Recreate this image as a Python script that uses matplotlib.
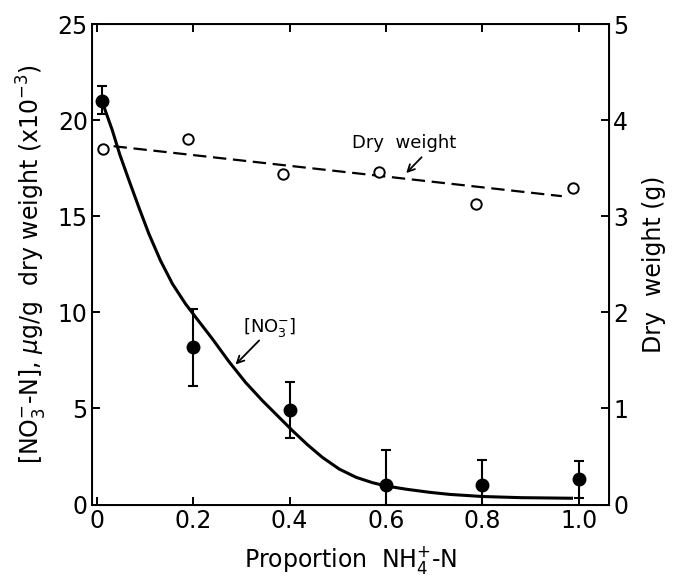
import matplotlib
matplotlib.use("Agg")
import matplotlib.pyplot as plt

# [NO3-] means with error bars (left axis, x10^-3)
prop = [0.01, 0.2, 0.4, 0.6, 0.8, 1.0]
no3 = [21.0, 8.2, 4.9, 1.0, 1.0, 1.35]
no3_hi = [21.8, 10.2, 6.4, 2.85, 2.3, 2.25]
no3_lo = [20.35, 6.15, 3.45, 0.0, 0.0, 0.33]

# fitted [NO3-] curve
curve_x = [0.015, 0.032, 0.048, 0.0665, 0.087, 0.108, 0.132, 0.157, 0.184,
           0.205, 0.240, 0.274, 0.309, 0.344, 0.378, 0.406, 0.437, 0.468,
           0.503, 0.538, 0.572, 0.600, 0.642, 0.69, 0.732, 0.80, 0.88, 0.985]
curve_y = [20.7, 19.5, 18.2, 16.9, 15.49, 14.1, 12.71, 11.49, 10.45,
           9.76, 8.62, 7.45, 6.35, 5.4, 4.55, 3.85, 3.12, 2.46,
           1.85, 1.42, 1.14, 0.97, 0.8, 0.64, 0.53, 0.42, 0.36, 0.33]

# dry weight (right axis, g)
dw_x = [0.012, 0.19, 0.387, 0.586, 0.787, 0.988]
dw = [3.70, 3.80, 3.44, 3.46, 3.125, 3.29]
dw_fit_x = [0.035, 0.965]
dw_fit_y = [3.73, 3.21]

xticks = [0, 0.2, 0.4, 0.6, 0.8, 1.0]
xticklabels = ["0", "0.2", "0.4", "0.6", "0.8", "1.0"]

plt.rcParams['font.family'] = ['DejaVu Sans']

fig = plt.figure(figsize=(6.76, 5.76), dpi=100)
ax = fig.add_axes([0.136, 0.124, 0.765, 0.834])

err_lo = [y - lo for y, lo in zip(no3, no3_lo)]
err_hi = [hi - y for y, hi in zip(no3, no3_hi)]
ax.errorbar(prop, no3, yerr=[err_lo, err_hi], fmt='o', color='black',
            ms=9, elinewidth=1.5, capsize=3.5, capthick=1.5, zorder=5)
ax.plot(curve_x, curve_y, color='black', lw=2.2, zorder=4,
        solid_joinstyle='round')

ax.set_xlim(-0.01, 1.063)
ax.set_ylim(0, 25)
ax.set_xticks(xticks)
ax.set_xticklabels(xticklabels)
ax.set_yticks([0, 5, 10, 15, 20, 25])
ax.tick_params(direction='in', length=6, width=1.4, labelsize=17, pad=3,
               top=True)
ax.set_xlabel("Proportion  NH$_4^{+}$-N", fontsize=17, labelpad=8)
ax.set_ylabel("[NO$_3^{-}$-N], $\\mu$g/g  dry weight (x10$^{-3}$)",
              fontsize=17, labelpad=6)
for s in ax.spines.values():
    s.set_linewidth(1.4)

# [NO3-] label and arrow
ax.text(0.358, 9.22, "[NO$_3^{-}$]", fontsize=13, ha='center', va='center')
ax.annotate("", xy=(0.288, 7.29), xytext=(0.337, 8.54),
            arrowprops=dict(arrowstyle='->,head_length=0.5,head_width=0.25',
                            color='black', lw=1.3, shrinkA=0, shrinkB=0))

ax2 = ax.twinx()
ax2.plot(dw_x, dw, 'o', mfc='white', mec='black', mew=1.4, ms=7.5, zorder=5)
ax2.plot(dw_fit_x, dw_fit_y, color='black', lw=1.6, dashes=(6, 3), zorder=4)
ax2.set_ylim(0, 5)
ax2.set_yticks([0, 1, 2, 3, 4, 5])
ax2.tick_params(direction='in', length=6, width=1.4, labelsize=17, pad=3)
ax2.set_ylabel("Dry  weight (g)", fontsize=17, labelpad=10)

# dry weight label and arrow
ax2.text(0.638, 3.76, "Dry  weight", fontsize=13, ha='center', va='center')
ax2.annotate("", xy=(0.642, 3.45), xytext=(0.674, 3.615),
             arrowprops=dict(arrowstyle='->,head_length=0.5,head_width=0.25',
                             color='black', lw=1.3, shrinkA=0, shrinkB=0))

fig.savefig("out.png", dpi=100)
